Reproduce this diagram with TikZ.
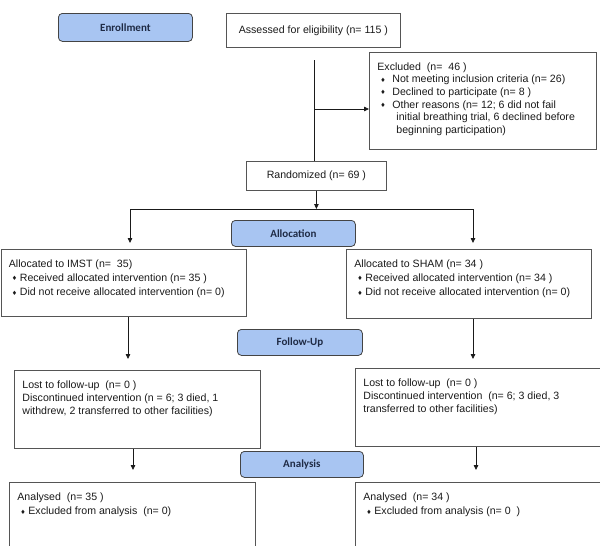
\documentclass[tikz,border=0pt]{standalone}
\usepackage{fontspec}
\setmainfont{Liberation Sans}
\newfontfamily\stagefont{Carlito}
\newfontfamily\bulletfont{DejaVu Sans}
\usepackage{xcolor}
\usepackage{tikz}
\usetikzlibrary{arrows.meta}
\definecolor{consortInk}{HTML}{1A1A1A}
\definecolor{consortFrame}{HTML}{555555}
\definecolor{consortBlue}{HTML}{A8C5F2}
\definecolor{consortNavy}{HTML}{1F2B45}
\newcommand{\bul}[1][8pt]{\hspace*{3pt}\makebox[#1][l]{\raisebox{0.5pt}{\bulletfont\fontsize{6}{6}\selectfont ♦}}}
\newcommand{\boxtext}[3]{\parbox[c][#2][t]{#1}{\raggedright #3}}
\tikzset{
    consort/box/.style={
        rectangle, draw=consortFrame, line width=0.8pt,
        anchor=north west, inner xsep=8pt, inner ysep=10pt,
        text=consortInk, font=\fontsize{10.6}{13}\selectfont
    },
    consort/plain/.style={
        rectangle, draw=consortFrame, line width=0.8pt,
        anchor=north west, inner sep=0pt,
        text=consortInk, font=\fontsize{10.6}{13}\selectfont
    },
    consort/stage/.style={
        rectangle, rounded corners=4pt,
        draw=consortFrame!80!black, fill=consortBlue, line width=0.8pt,
        anchor=north west, inner sep=0pt,
        text=consortNavy, font=\stagefont\bfseries\fontsize{11}{13}\selectfont
    },
    consort/line/.style={
        draw=consortInk, line width=0.8pt
    },
    consort/arrow/.style={
        consort/line, -{Triangle[length=5pt,width=4.5pt]}
    }
}
\begin{document}
\begin{tikzpicture}[x=1pt, y=-1pt]
    \useasboundingbox (0,0) rectangle (600,546);

    \node[consort/stage, minimum width=134pt, minimum height=28pt] (enrollment) at (58,13) {Enrollment};
    \node[consort/plain, minimum width=174pt, minimum height=34pt] (assessed) at (226,13)
        {Assessed for eligibility (n= 115 )};
    \node[consort/box, font=\fontsize{10.6}{12.7}\selectfont] (excluded) at (369,52)
        {\boxtext{211pt}{77pt}{Excluded~ (n=~ 46 )\\
         \bul[12pt]Not meeting inclusion criteria (n= 26)\\
         \bul[12pt]Declined to participate (n= 8 )\\
         \bul[12pt]Other reasons (n= 12; 6 did not fail\\
         \hspace*{19pt}initial breathing trial, 6 declined before\\
         \hspace*{19pt}beginning participation)}};
    \node[consort/plain, minimum width=140pt, minimum height=29pt] (randomized) at (246,161)
        {Randomized (n= 69 )};
    \node[consort/stage, minimum width=124pt, minimum height=26pt] (allocation) at (231,220) {Allocation};
    \node[consort/box, font=\fontsize{10.6}{14.3}\selectfont] (imst) at (0.5,249)
        {\boxtext{229pt}{47pt}{Allocated to IMST (n=~ 35)\\
         \bul Received allocated intervention (n= 35 )\\
         \bul Did not receive allocated intervention (n= 0)}};
    \node[consort/box, font=\fontsize{10.6}{14.3}\selectfont] (sham) at (346,249)
        {\boxtext{229pt}{49pt}{Allocated to SHAM (n= 34 )\\
         \bul Received allocated intervention (n= 34 )\\
         \bul Did not receive allocated intervention (n= 0)}};
    \node[consort/stage, minimum width=125pt, minimum height=26pt] (followup) at (237,329) {Follow-Up};
    \node[consort/box] (lostimst) at (14,370)
        {\boxtext{230pt}{58pt}{Lost to follow-up~ (n= 0 )\\
         Discontinued intervention (n = 6; 3 died, 1\\
         withdrew, 2 transferred to other facilities)}};
    \node[consort/box] (lostsham) at (355,368)
        {\boxtext{234pt}{58pt}{Lost to follow-up~ (n= 0 )\\
         Discontinued intervention~ (n= 6; 3 died, 3\\
         transferred to other facilities)}};
    \node[consort/stage, minimum width=123pt, minimum height=26pt] (analysis) at (240,451) {Analysis};
    \node[consort/box, font=\fontsize{10.6}{14.5}\selectfont] (analysedimst) at (9,482)
        {\boxtext{230pt}{50pt}{Analysed~ (n= 35 )\\
         \bul Excluded from analysis~ (n= 0)}};
    \node[consort/box, font=\fontsize{10.6}{14.5}\selectfont] (analysedsham) at (355,482)
        {\boxtext{234pt}{50pt}{Analysed~ (n= 34 )\\
         \bul Excluded from analysis (n= 0~ )}};

    \coordinate (trunk) at (314,60);
    \coordinate (trunkexc) at (314,109);
    \coordinate (split) at (314,209);
    \coordinate (imstin) at (130,243);
    \coordinate (shamin) at (473,243);
    \coordinate (imstdrop) at (128,359);
    \coordinate (shamdrop) at (473,359);
    \coordinate (lostimstdrop) at (133,470);
    \coordinate (lostshamdrop) at (476,470);

    \draw[consort/line] (trunk) -- (trunk |- randomized.north);
    \draw[consort/arrow] (trunkexc) -- (trunkexc -| excluded.west);
    \draw[consort/arrow] (randomized.south) -- (randomized.south |- split);
    \draw[consort/arrow] (split) -| (imstin);
    \draw[consort/arrow] (split) -| (shamin);
    \draw[consort/arrow] (imst.south -| imstdrop) -- (imstdrop);
    \draw[consort/arrow] (sham.south -| shamdrop) -- (shamdrop);
    \draw[consort/arrow] (lostimst.south -| lostimstdrop) -- (lostimstdrop);
    \draw[consort/arrow] (lostsham.south -| lostshamdrop) -- (lostshamdrop);
\end{tikzpicture}
\end{document}
